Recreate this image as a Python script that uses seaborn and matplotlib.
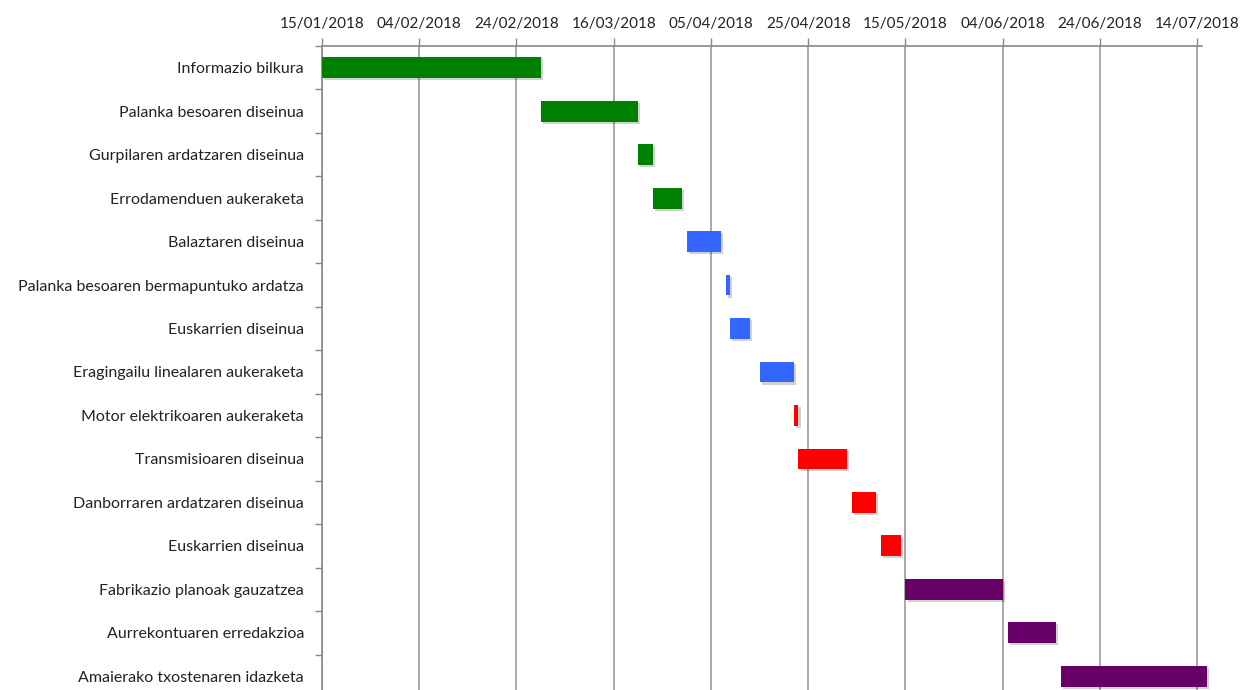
import matplotlib
matplotlib.use("Agg")
import matplotlib.pyplot as plt
import matplotlib.dates as mdates
import matplotlib.patheffects as pe
import seaborn as sns
import pandas as pd
import numpy as np

tasks = [
    "Informazio bilkura",
    "Palanka besoaren diseinua",
    "Gurpilaren ardatzaren diseinua",
    "Errodamenduen aukeraketa",
    "Balaztaren diseinua",
    "Palanka besoaren bermapuntuko ardatza",
    "Euskarrien diseinua",
    "Eragingailu linealaren aukeraketa",
    "Motor elektrikoaren aukeraketa",
    "Transmisioaren diseinua",
    "Danborraren ardatzaren diseinua",
    "Euskarrien diseinua",
    "Fabrikazio planoak gauzatzea",
    "Aurrekontuaren erredakzioa",
    "Amaierako txostenaren idazketa",
]
start_dates = [
    "2018-01-15", "2018-03-01", "2018-03-21", "2018-03-24", "2018-03-31",
    "2018-04-08", "2018-04-09", "2018-04-15", "2018-04-22", "2018-04-23",
    "2018-05-04", "2018-05-10", "2018-05-15", "2018-06-05", "2018-06-16",
]
durations = [45, 20, 3, 6, 7, 1, 4, 7, 1, 10, 5, 4, 20, 10, 30]
colors = [
    "#008000", "#008000", "#008000", "#008000",
    "#3366FF", "#3366FF", "#3366FF", "#3366FF",
    "#FF0000", "#FF0000", "#FF0000", "#FF0000",
    "#660066", "#660066", "#660066",
]
tick_dates = [
    "2018-01-15", "2018-02-04", "2018-02-24", "2018-03-16", "2018-04-05",
    "2018-04-25", "2018-05-15", "2018-06-04", "2018-06-24", "2018-07-14",
]

sns.set_style("white")
plt.rcParams["font.family"] = ["Lato", "DejaVu Sans"]

df = pd.DataFrame({"task": tasks, "start": pd.to_datetime(start_dates), "dur": durations})
df["start_num"] = mdates.date2num(df["start"])

fig = plt.figure(figsize=(12.43, 6.90), dpi=100)
ax = fig.add_axes([322 / 1243, -8 / 690, (1202 - 322) / 1243, (698 - 46) / 690])

ypos = np.arange(len(tasks))
bars = ax.barh(ypos, df["dur"], left=df["start_num"], height=0.48, color=colors,
               edgecolor="none", linewidth=0, zorder=3, clip_on=False)
for b in bars:
    b.set_path_effects([pe.SimplePatchShadow(offset=(1.5, -1.5), shadow_rgbFace="#000000",
                                             alpha=0.18), pe.Normal()])

x0 = mdates.date2num(pd.Timestamp("2018-01-15"))
ax.set_xlim(x0, x0 + 181)
ax.set_ylim(len(tasks) - 0.5, -0.5)

tnums = mdates.date2num(pd.to_datetime(tick_dates))
ax.set_xticks(tnums)
ax.set_xticklabels([pd.Timestamp(t).strftime("%d/%m/%Y") for t in tick_dates])
ax.xaxis.tick_top()
ax.tick_params(axis="x", which="major", top=True, bottom=False, length=6, width=1,
               color="#888888", pad=5, labelsize=11, labelcolor="#222222")

ax.set_yticks(ypos)
ax.set_yticklabels(tasks)
ax.set_yticks(np.arange(len(tasks) + 1) - 0.5, minor=True)
ax.tick_params(axis="y", which="major", length=0, pad=13, labelsize=11.5, labelcolor="#222222")
ax.tick_params(axis="y", which="minor", left=True, length=5, width=1, color="#888888")

ax.grid(axis="x", color="#999999", linewidth=1.2, zorder=0)
ax.grid(axis="y", visible=False)
ax.set_axisbelow(True)

for s in ["right", "bottom"]:
    ax.spines[s].set_visible(False)
for s in ["top", "left"]:
    ax.spines[s].set_color("#888888")
    ax.spines[s].set_linewidth(1.2)

ax.set_xlabel("")
ax.set_ylabel("")

fig.savefig("out.png", dpi=100)
